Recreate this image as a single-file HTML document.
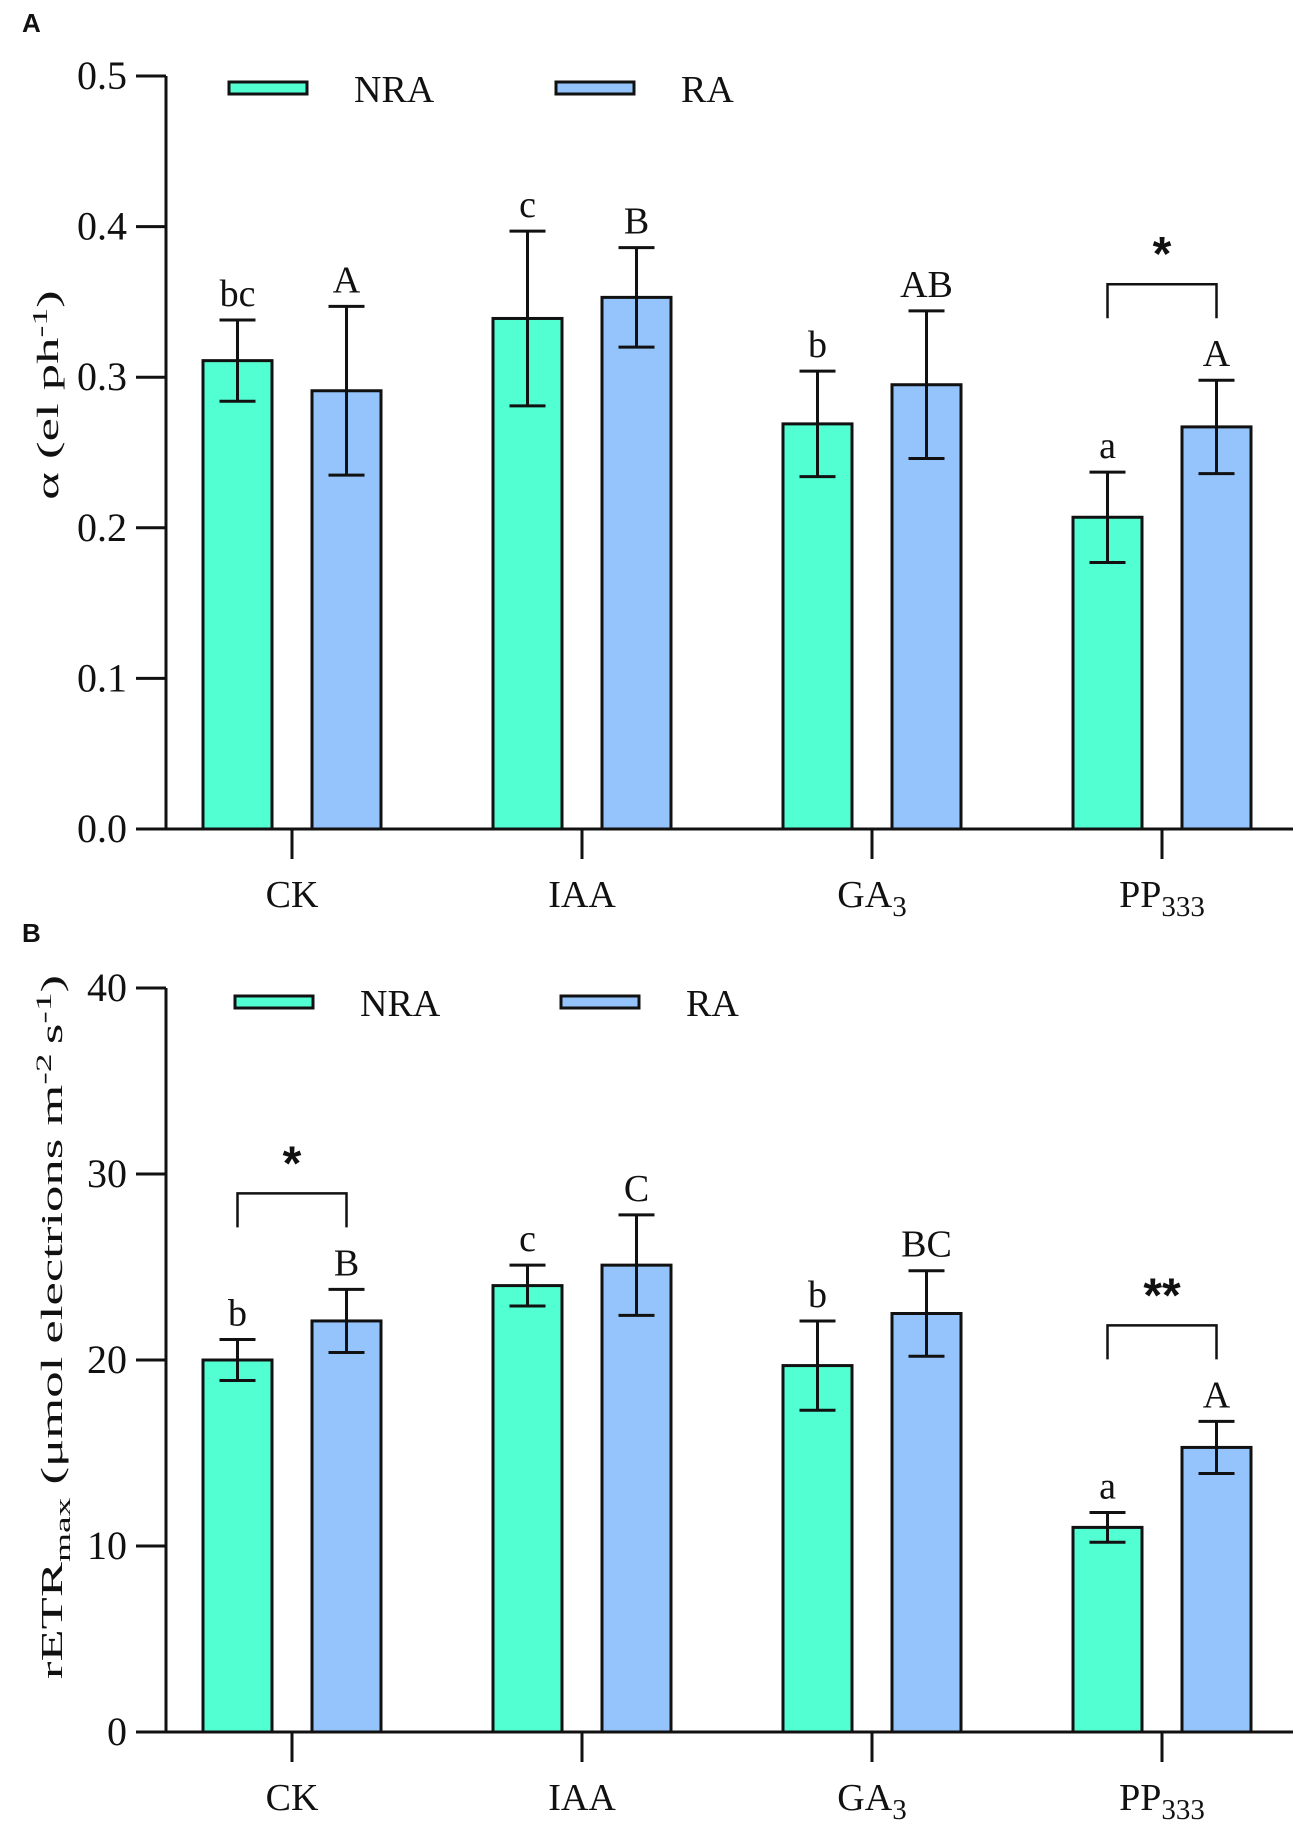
<!DOCTYPE html>
<html><head><meta charset="utf-8"><style>
body{margin:0;background:#fff}
svg text{font-family:"Liberation Serif",serif;fill:#111}
</style></head><body>
<svg id="svg" width="1299" height="1822" viewBox="0 0 1299 1822" xmlns="http://www.w3.org/2000/svg">
<text x="22" y="32" style="font-family:'Liberation Sans',sans-serif;font-weight:bold;font-size:26px">A</text>
<text x="22" y="942" style="font-family:'Liberation Sans',sans-serif;font-weight:bold;font-size:26px">B</text>
<text transform="translate(58,395) rotate(-90) scale(1.7,1)" text-anchor="middle" font-size="31">α (el ph<tspan dy="-11" font-size="21">-1</tspan><tspan dy="11">)</tspan></text>
<text transform="translate(62,1327) rotate(-90) scale(1.7,1)" text-anchor="middle" font-size="31">rETR<tspan dy="8" font-size="22">max</tspan><tspan dy="-8">  (μmol electrions m</tspan><tspan dy="-11" font-size="22">-2 </tspan><tspan dy="11">s</tspan><tspan dy="-11" font-size="22">-1</tspan><tspan dy="11">)</tspan></text>
</svg>
<script>
const categories=["CK","IAA","GA3","PP333"];
const nraA=[0.311,0.339,0.269,0.207];
const nraAErr=[0.027,0.058,0.035,0.030];
const raA=[0.291,0.353,0.295,0.267];
const raAErr=[0.056,0.033,0.049,0.031];
const lettersNraA=["bc","c","b","a"];
const lettersRaA=["A","B","AB","A"];
const ticksA=["0.0","0.1","0.2","0.3","0.4","0.5"];
const nraB=[20.0,24.0,19.7,11.0];
const nraBErr=[1.1,1.1,2.4,0.8];
const raB=[22.1,25.1,22.5,15.3];
const raBErr=[1.7,2.7,2.3,1.4];
const lettersNraB=["b","c","b","a"];
const lettersRaB=["B","C","BC","A"];
const ticksB=["0","10","20","30","40"];
const sigA=["","","","*"];
const sigB=["*","","","**"];

const NS="http://www.w3.org/2000/svg";
const svg=document.getElementById('svg');
function mk(tag,attrs,parent){const e=document.createElementNS(NS,tag);for(const k in attrs)e.setAttribute(k,attrs[k]);(parent||svg).appendChild(e);return e;}
const xC=i=>292+i*290;

function panel(p){
  const g=mk('g',{});
  
  
  const y=v=>p.y0-(v/p.max)*(p.y0-p.yTop);
  const ya=mk('line',{x1:166,y1:p.yTop,x2:166,y2:p.y0,stroke:'#111','stroke-width':3},g);
  
  
  const xa=mk('line',{x1:136,y1:p.y0,x2:1293,y2:p.y0,stroke:'#111','stroke-width':3},g);
  
  
  p.ticks.forEach((t,i)=>{
    const v=parseFloat(t);const yy=y(v);
    if(i>0){const tl=mk('line',{x1:136,y1:yy,x2:166,y2:yy,stroke:'#111','stroke-width':3},g);
      
      }
    const tx=mk('text',{x:127,y:yy+13,'text-anchor':'end','font-size':40},g);
    
    
    tx.textContent=t;
  });
  categories.forEach((c,i)=>{
    const cx=xC(i);
    const tk=mk('line',{x1:cx,y1:p.y0,x2:cx,y2:p.y0+30,stroke:'#111','stroke-width':3},g);
    
    
    const lb=mk('text',{x:cx,y:p.y0+78,'text-anchor':'middle','font-size':38},g);
    
    
    if(c==="GA3"){lb.innerHTML='GA<tspan dy="9" font-size="29">3</tspan>';}
    else if(c==="PP333"){lb.innerHTML='PP<tspan dy="9" font-size="29">333</tspan>';}
    else lb.textContent=c;
    [[p.nra,p.nraErr,p.lN,'#52ffd2',-89,'bar-nra'],[p.ra,p.raErr,p.lR,'#94c4fb',20,'bar-ra']].forEach(s=>{
      const v=s[0][i],e=s[1][i],x0=cx+s[4];
      const r=mk('rect',{x:x0,y:y(v),width:69,height:p.y0-y(v),fill:s[3],stroke:'#111','stroke-width':3},g);
      
      
      const mx=x0+34.5;
      const eb=mk('path',{d:`M${mx},${y(v+e)}V${y(v-e)}M${mx-18},${y(v+e)}H${mx+18}M${mx-18},${y(v-e)}H${mx+18}`,stroke:'#111','stroke-width':3,fill:'none'},g);
      
      
      const lt=mk('text',{x:mx,y:y(v+e)-14,'text-anchor':'middle','font-size':38},g);
      
      
      lt.textContent=s[2][i];
    });
    if(p.sig[i]){
      const x1=cx-89+34.5,x2=cx+20+34.5;
      const top=Math.min(y(p.nra[i]+p.nraErr[i]),y(p.ra[i]+p.raErr[i]))-96;
      const bk=mk('path',{d:`M${x1},${top+34}V${top}H${x2}V${top+34}`,stroke:'#111','stroke-width':2.5,fill:'none'},g);
      
      
      const st=mk('text',{x:(x1+x2)/2,y:top-14,'text-anchor':'middle','font-size':48,'font-weight':'bold',style:"font-family:'Liberation Sans',sans-serif"},g);
      
      
      st.textContent=p.sig[i];
    }
  });
  [[p.lg[0],'#52ffd2','NRA'],[p.lg[1],'#94c4fb','RA']].forEach(l=>{
    const sw=mk('rect',{x:l[0],y:p.lgY-6,width:78,height:12,fill:l[1],stroke:'#111','stroke-width':3},g);
    
    
    const lt=mk('text',{x:l[0]+125,y:p.lgY+14,'font-size':38},g);
    
    
    lt.textContent=l[2];
  });
}
panel({name:'chart-a',y0:829,yTop:76,max:0.5,ticks:ticksA,nra:nraA,nraErr:nraAErr,ra:raA,raErr:raAErr,lN:lettersNraA,lR:lettersRaA,sig:sigA,lg:[229,556],lgY:88});
panel({name:'chart-b',y0:1732,yTop:988,max:40,ticks:ticksB,nra:nraB,nraErr:nraBErr,ra:raB,raErr:raBErr,lN:lettersNraB,lR:lettersRaB,sig:sigB,lg:[235,561],lgY:1002});
</script>
</body></html>
